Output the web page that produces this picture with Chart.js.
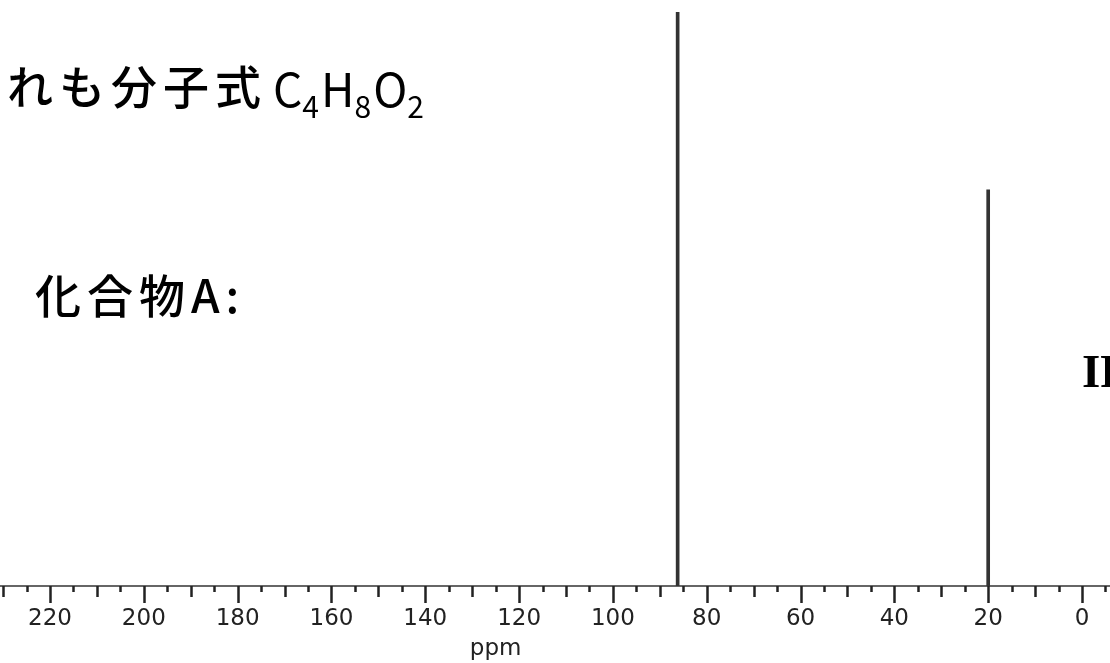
<!DOCTYPE html>
<html>
<head>
<meta charset="utf-8">
<script src="https://cdn.jsdelivr.net/npm/chart.js@4"></script>
<style>
  html, body { margin: 0; padding: 0; background: #fff; }
  #wrap { width: 1110px; height: 663px; position: relative; }
</style>
</head>
<body>
<div id="wrap"><canvas id="spec"></canvas></div>
<script>
// 13C NMR peaks (ppm) and relative heights
const peakShifts = [86.2, 20.0];
const peakHeights = [1.0, 0.69];
// axis range (reversed, ppm)
const ppmMin = -5.97;
const ppmMax = 230.66;
const tickLabels = [220, 200, 180, 160, 140, 120, 100, 80, 60, 40, 20, 0];

// baseline, tick marks of three lengths, labels + captions
const overlay = {
    id: 'overlay',
    beforeDatasetsDraw(chart) {
        const ctx = chart.ctx;
        const xs = chart.scales.x;
        const base = chart.chartArea.bottom;
        ctx.save();
        ctx.strokeStyle = '#666';
        ctx.lineWidth = 2;
        ctx.beginPath();
        ctx.moveTo(0, base);
        ctx.lineTo(chart.width, base);
        ctx.stroke();

        ctx.strokeStyle = '#222';
        ctx.lineWidth = 2.5;
        for (let v = -5; v <= 230; v += 5) {
            const len = v % 20 === 0 ? 17 : (v % 10 === 0 ? 11 : 6);
            const px = Math.round(xs.getPixelForValue(v)) + 0.5;
            ctx.beginPath();
            ctx.moveTo(px, base);
            ctx.lineTo(px, base + len);
            ctx.stroke();
        }

        ctx.fillStyle = '#222';
        ctx.font = '23px "DejaVu Sans"';
        ctx.textAlign = 'center';
        ctx.textBaseline = 'alphabetic';
        tickLabels.forEach(v => ctx.fillText(String(v), xs.getPixelForValue(v), base + 39));
        ctx.fillText('ppm', xs.getPixelForValue(125), base + 69);
        ctx.restore();
    },
    afterDraw(chart) {
        const ctx = chart.ctx;
        ctx.save();
        ctx.fillStyle = '#000';
        ctx.textAlign = 'left';
        ctx.textBaseline = 'alphabetic';
        ctx.letterSpacing = '6px';
        ctx.font = '500 46px "Noto Sans CJK JP"';
        ctx.fillText('いずれも分子式', 7 - 2 * 52, 104);
        ctx.letterSpacing = '0px';

        let x = 273;
        const parts = [['C', false], ['4', true], ['H', false], ['8', true], ['O', false], ['2', true]];
        parts.forEach(([t, sub]) => {
            ctx.font = sub ? '30px "Noto Sans CJK JP"' : '46px "Noto Sans CJK JP"';
            ctx.fillText(t, x, sub ? 118 : 107);
            x += ctx.measureText(t).width + (sub ? 2 : 0);
        });

        ctx.letterSpacing = '6px';
        ctx.font = '500 46px "Noto Sans CJK JP"';
        ctx.fillText('化合物A:', 35, 313);
        ctx.letterSpacing = '0px';

        ctx.font = 'bold 47px "Liberation Serif"';
        ctx.fillText('IR', 1082, 387);
        ctx.restore();
    }
};

const ctx = document.getElementById('spec').getContext('2d');
new Chart(ctx, {
    type: 'bar',
    data: {
        datasets: [{
            data: peakShifts.map((s, i) => ({ x: s, y: peakHeights[i] })),
            backgroundColor: '#333',
            borderWidth: 0,
            barThickness: 3
        }]
    },
    options: {
        responsive: true,
        maintainAspectRatio: false,
        animation: false,
        layout: { autoPadding: false, padding: { top: 12, bottom: 77, left: 0, right: 0 } },
        plugins: { legend: { display: false }, tooltip: { enabled: false } },
        scales: {
            x: { type: 'linear', display: false, reverse: true, min: ppmMin, max: ppmMax, offset: false },
            y: { display: false, min: 0, max: 1 }
        }
    },
    plugins: [overlay]
});
</script>
</body>
</html>
